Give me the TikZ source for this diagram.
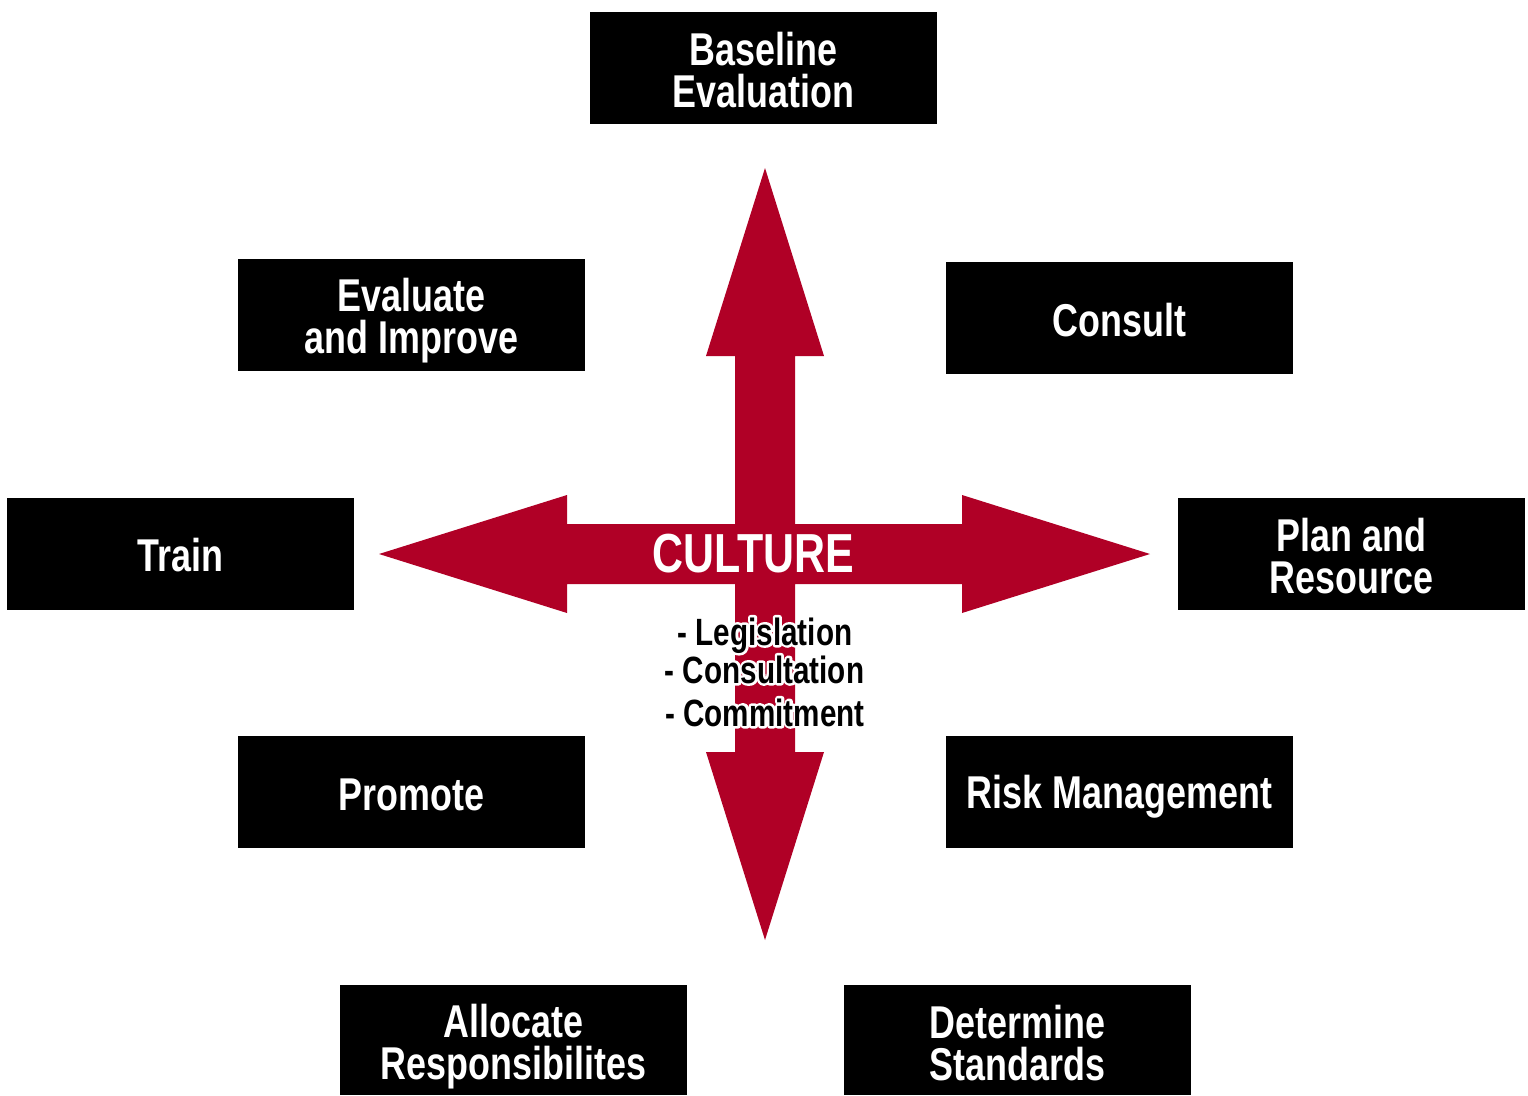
\documentclass[tikz,border=0pt]{standalone}
\usepackage{fontspec}
\setmainfont{Liberation Sans}[FakeStretch=0.78]
\definecolor{culturered}{RGB}{176,0,38}
% black text with a white outline: a stroked white copy sits behind the filled black one
\newcommand\outlined[1]{\rlap{\special{pdf:literal direct 1 1 1 RG 5 w 1 j 1 Tr}#1\special{pdf:literal direct 0 Tr 0 0 0 RG 1 w 0 j}}#1}
\begin{document}
\begin{tikzpicture}[x=1pt,y=-1pt,
  boxbg/.style={fill=black, minimum width=347pt, minimum height=112pt, inner sep=0pt},
  boxtext/.style={text=white, inner sep=0pt, align=center,
    font=\fontsize{46}{42}\selectfont\bfseries},
  listitem/.style={anchor=base, inner sep=0pt, font=\fontsize{38}{40}\selectfont\bfseries}]
\useasboundingbox (0,0) rectangle (1528,1095);

% four-headed cross
\fill[culturered] (735,356) -- (706,356) -- (765,168) -- (824,356) -- (795,356)
  -- (795,524) -- (962,524) -- (962,495) -- (1150,554) -- (962,613) -- (962,584)
  -- (795,584) -- (795,752) -- (824,752) -- (765,940) -- (706,752) -- (735,752)
  -- (735,584) -- (567,584) -- (567,613) -- (379,554) -- (567,495) -- (567,524)
  -- (735,524) -- cycle;

\node[text=white, inner sep=0pt, font=\fontsize{55}{55}\selectfont\bfseries]
  (culture) at (753,554) {CULTURE};

% list under the cross
\node[listitem] (leg) at (765,645) {\outlined{- Legislation}};
\node[listitem] (con) at (764.5,683) {\outlined{- Consultation}};
\node[listitem] (com) at (765,726) {\outlined{- Commitment}};

% surrounding steps: black panel plus its label
\newcommand\stepbox[5]{%
  \node[boxbg, minimum height=#3] (#1) at (#2) {};
  \node[boxtext, yshift=#4] (#1-label) at (#1) {#5};}
\stepbox{baseline}{763.5,68}{112pt}{-2pt}{Baseline\\Evaluation}
\stepbox{evaluate}{411.5,315}{112pt}{-6pt}{Evaluate\\and Improve}
\stepbox{consult}{1119.5,318}{112pt}{-2pt}{Consult}
\stepbox{train}{180.5,553.5}{112pt}{-2pt}{Train}
\stepbox{plan}{1351.5,553.5}{112pt}{-3pt}{Plan and\\Resource}
\stepbox{promote}{411.5,792}{112pt}{-3pt}{Promote}
\stepbox{risk}{1119.5,792}{112pt}{-5pt}{Risk Management}
\stepbox{allocate}{513.5,1040}{110pt}{-7pt}{Allocate\\Responsibilites}
\stepbox{determine}{1017.5,1040}{110pt}{-3pt}{Determine\\Standards}
\end{tikzpicture}
\end{document}
